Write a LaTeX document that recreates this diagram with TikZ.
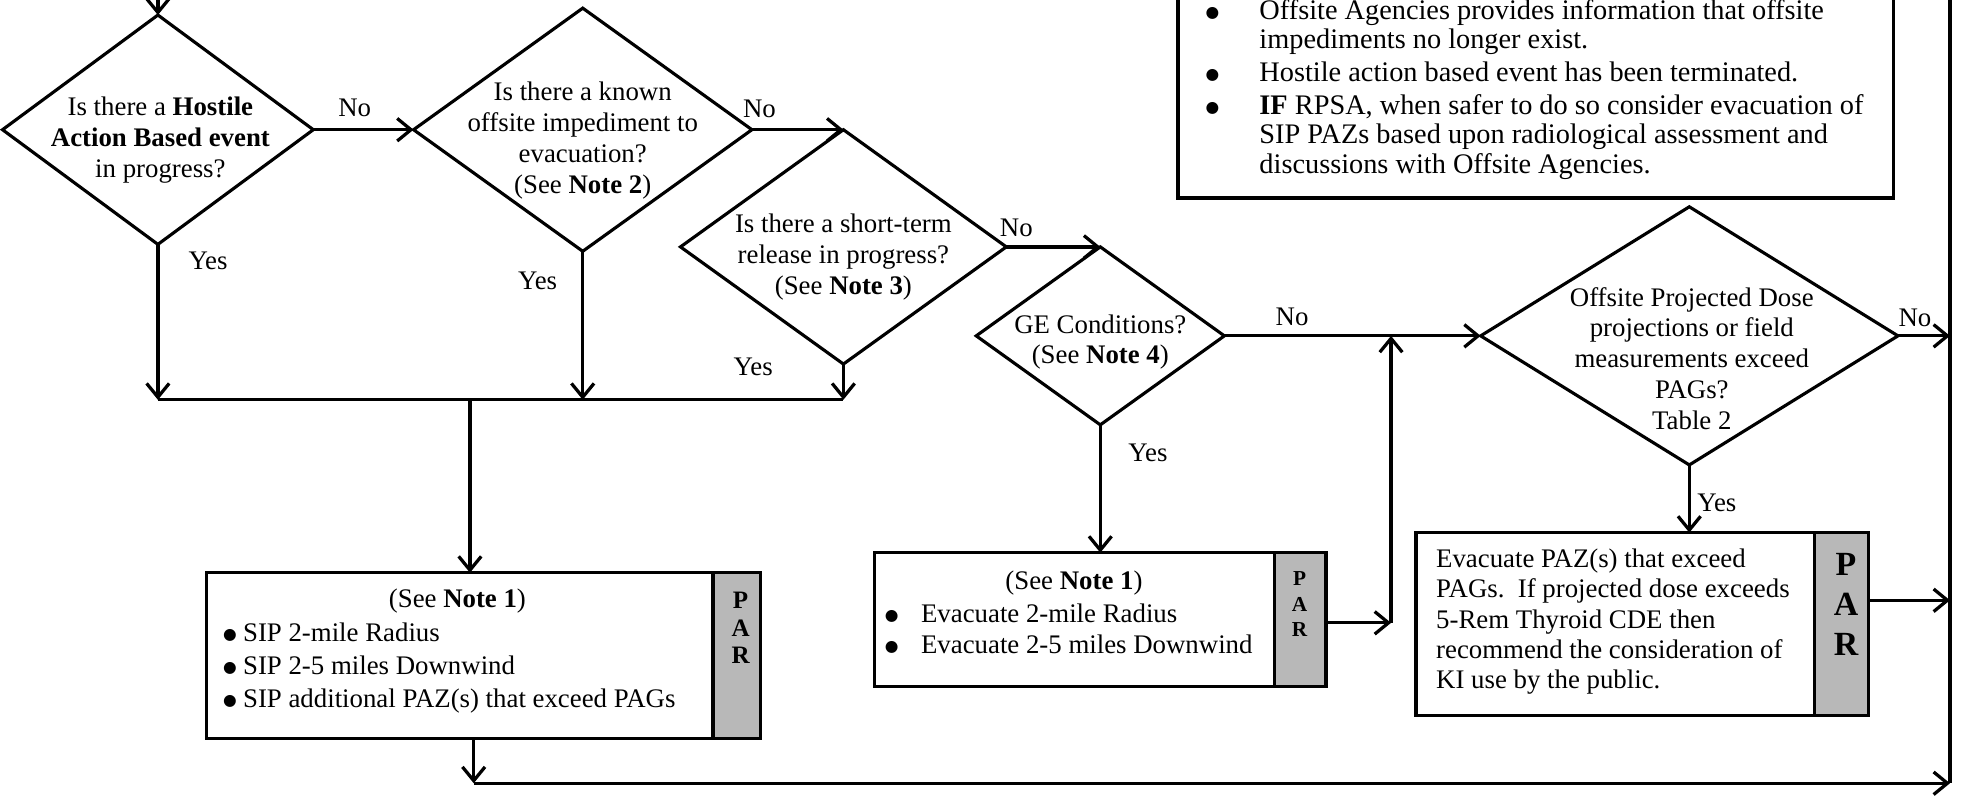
\documentclass[tikz,border=0pt]{standalone}
\usepackage{fontspec}
\setmainfont{Liberation Serif}
\newfontfamily\djv{DejaVu Sans}
\usetikzlibrary{shapes.geometric,arrows.meta}
\newcommand{\myfs}{\fontsize{21.4}{24.6}\selectfont}
\newcommand{\bigdot}{\raisebox{1.6pt}{{\djv\fontsize{12.5}{12.5}\selectfont ●}}}
\newcommand{\blt}[1]{\makebox[#1][l]{\bigdot}}
\begin{document}
\begin{tikzpicture}[x=1pt,y=-1pt,
  every node/.style={inner sep=0pt, outer sep=0pt},
  ln/.style={line width=2.6pt},
  arr/.style={line width=2.6pt,-{Straight Barb[length=11pt,width=18pt]}},
  dia/.style={diamond, draw, line width=2.5pt},
  txt/.style={font=\myfs, align=center},
  lbl/.style={font=\myfs},
  bx/.style={draw, line width=2.6pt, fill=white},
  parbox/.style={draw, line width=2.6pt, fill=black!28},
]
\useasboundingbox (0,0) rectangle (1568,635);

% ---------- decisions ----------
\node[dia, minimum width=248pt, minimum height=183pt] (d1) at (126,103.5) {};
\node[dia, minimum width=270pt, minimum height=194pt] (d2) at (465,103.5) {};
\node[dia, minimum width=260pt, minimum height=187pt] (d3) at (673,197) {};
\node[dia, minimum width=198pt, minimum height=142pt] (d4) at (878,268) {};
\node[dia, minimum width=333pt, minimum height=206pt] (d5) at (1348,268) {};

\node[txt] (t1) at (128,112) {Is there a \textbf{Hostile}\\\textbf{Action Based event}\\in progress?};
\node[txt] (t2) at (465,112) {Is there a known\\offsite impediment to\\evacuation?\\(See \textbf{Note 2})};
\node[txt] (t3) at (673,205) {Is there a short-term\\release in progress?\\(See \textbf{Note 3})};
\node[txt] (t4) at (878,273) {GE Conditions?\\(See \textbf{Note 4})};
\node[txt] (t5) at (1350,286) {Offsite Projected Dose\\projections or field\\measurements exceed\\PAGs?\\Table 2};

% ---------- top box ----------
\node[bx, minimum width=571pt, minimum height=170pt, anchor=south west] (tb) at (940,158) {};
\node[font=\fontsize{22.6}{23.6}\selectfont, anchor=west] (tbt) at (962,72) {%
  \begin{tabular}{@{}p{43pt}@{}l@{}}
  \bigdot & Offsite Agencies provides information that offsite\\
    & impediments no longer exist.\\[3pt]
  \bigdot & Hostile action based event has been terminated.\\[2pt]
  \bigdot & \textbf{IF} RPSA, when safer to do so consider evacuation of\\
    & SIP PAZs based upon radiological assessment and\\
    & discussions with Offsite Agencies.
  \end{tabular}};

% ---------- action boxes ----------
\node[bx, minimum width=404pt, minimum height=132pt] (b1) at (367,523) {};
\node[parbox, minimum width=38pt, minimum height=132pt] (p1) at (588,523) {};
\node[txt] (b1h) at (365,480) {(See \textbf{Note 1})};
\node[font=\fontsize{21.4}{26.5}\selectfont, align=left, anchor=west] (b1t) at (178,533)
  {\blt{16pt}SIP 2-mile Radius\\\blt{16pt}SIP 2-5 miles Downwind\\\blt{16pt}SIP additional PAZ(s) that exceed PAGs};
\node[font=\fontsize{20}{22}\selectfont\bfseries, align=center] (pl1) at (591,501) {P\\A\\R};

\node[bx, minimum width=319pt, minimum height=107pt] (b2) at (857.5,494.5) {};
\node[parbox, minimum width=41pt, minimum height=107pt] (p2) at (1037.5,494.5) {};
\node[txt] (b2h) at (857,465) {(See \textbf{Note 1})};
\node[font=\fontsize{21.4}{25}\selectfont, align=left, anchor=west] (b2t) at (706,502)
  {\blt{29pt}Evacuate 2-mile Radius\\\blt{29pt}Evacuate 2-5 miles Downwind};
\node[font=\fontsize{17}{20}\selectfont\bfseries, align=center] (pl2) at (1037,482) {P\\A\\R};

\node[bx, minimum width=318pt, minimum height=146pt] (b3) at (1289,498) {};
\node[parbox, minimum width=43pt, minimum height=146pt] (p3) at (1469.5,498) {};
\node[font=\fontsize{21.4}{24}\selectfont, align=left, anchor=west] (b3t) at (1146,496)
  {Evacuate PAZ(s) that exceed\\PAGs.\ \ If projected dose exceeds\\5-Rem Thyroid CDE then\\recommend the consideration of\\KI use by the public.};
\node[font=\fontsize{27}{32}\selectfont\bfseries, align=center] (pl3) at (1473,482) {P\\A\\R};

% ---------- coordinates ----------
\coordinate (entry) at (126,0);
\coordinate (rtop) at (1556,-3);
\coordinate (rbot) at (1556,625);
\coordinate (m1) at (126,319);
\coordinate (m2) at (465,319);
\coordinate (m3) at (673,319);
\coordinate (mj) at (375,319);
\coordinate (bj) at (378,625);
\coordinate (vj) at (1110,497);
\coordinate (a3) at (1491,479);

% ---------- connectors ----------
\draw[arr] (entry) -- (d1.north);
\draw[arr] (d1.east) -- (d2.west);
\draw[arr] (d2.east) -- (d3.north);
\draw[arr] (d3.east) -- (d4.north);
\draw[arr] (d4.east) -- (d5.west);
\draw[arr] (d5.east) -- (d5.east -| rbot);
\draw[ln] (rtop) -- (rbot);

\draw[arr] (d1.south) -- (m1);
\draw[arr] (d2.south) -- (m2);
\draw[arr] (d3.south) -- (m3);
\draw[ln] (m1) -- (m3);
\draw[arr] (mj) -- (mj |- b1.north);
\draw[arr] (bj |- b1.south) -- (bj);
\draw[arr] (bj) -- (rbot);

\draw[arr] (d4.south) -- (d4.south |- b2.north);
\draw[arr] (p2.east |- vj) -- (vj);
\draw[arr] (vj) -- (vj |- d4.east);

\draw[arr] (d5.south) -- (d5.south |- b3.north);
\draw[arr] (p3.east |- a3) -- (a3 -| rbot);

% ---------- labels ----------
\node[lbl] (n1) at (283,86) {No};
\node[lbl] (n2) at (606,87) {No};
\node[lbl] (n3) at (811,182) {No};
\node[lbl] (n4) at (1031,253) {No};
\node[lbl] (n5) at (1528,254) {No};
\node[lbl] (y1) at (166,208) {Yes};
\node[lbl] (y2) at (429,224) {Yes};
\node[lbl] (y3) at (601,293) {Yes};
\node[lbl] (y4) at (916,361) {Yes};
\node[lbl] (y5) at (1370,401) {Yes};
\end{tikzpicture}
\end{document}
